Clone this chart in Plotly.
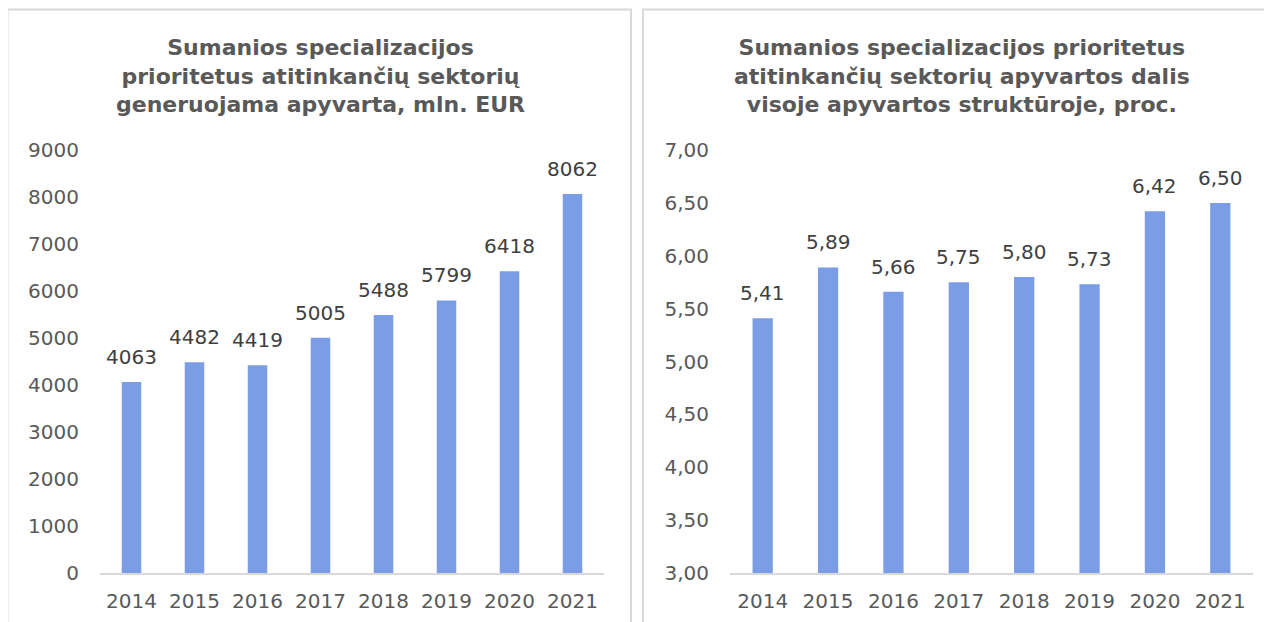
import plotly.graph_objects as go

OFF = 8  # page body margin
W, H = 1272 - OFF, 622 - OFF

years = [2014, 2015, 2016, 2017, 2018, 2019, 2020, 2021]
turnover = [4063, 4482, 4419, 5005, 5488, 5799, 6418, 8062]
share = [5.41, 5.89, 5.66, 5.75, 5.80, 5.73, 6.42, 6.50]
share_labels = ["5,41", "5,89", "5,66", "5,75", "5,80", "5,73", "6,42", "6,50"]

title_left = "Sumanios specializacijos<br>prioritetus atitinkančių sektorių<br>generuojama apyvarta, mln. EUR"
title_right = "Sumanios specializacijos prioritetus<br>atitinkančių sektorių apyvartos dalis<br>visoje apyvartos struktūroje, proc."

BAR = "#7b9de6"
TICK = "#595959"
LABEL = "#404040"
FONT = "DejaVu Sans, Verdana, sans-serif"

def px(x):
    return (x - OFF) / W

def py(y):
    return 1 - (y - OFF) / H

fig = go.Figure()
fig.add_trace(go.Bar(x=years, y=turnover, marker=dict(color=BAR, line=dict(width=0)),
                     width=0.31, xaxis="x", yaxis="y", hoverinfo="x+y"))
fig.add_trace(go.Bar(x=years, y=share, marker=dict(color=BAR, line=dict(width=0)),
                     width=0.31, xaxis="x2", yaxis="y2", hoverinfo="x+y"))

annotations = []
for yr, v in zip(years, turnover):
    annotations.append(dict(x=yr, y=v, xref="x", yref="y", text=str(v), showarrow=False,
                            yanchor="middle", yshift=25, font=dict(size=20, color=LABEL, family=FONT)))
for yr, v, t in zip(years, share, share_labels):
    annotations.append(dict(x=yr, y=v, xref="x2", yref="y2", text=t, showarrow=False,
                            yanchor="middle", yshift=25, font=dict(size=20, color=LABEL, family=FONT)))

annotations.append(dict(x=px(320), y=py(76), xref="paper", yref="paper", text=title_left,
                        showarrow=False, xanchor="center", yanchor="middle",
                        font=dict(size=22, color=TICK, family=FONT, weight="bold")))
annotations.append(dict(x=px(962), y=py(76), xref="paper", yref="paper", text=title_right,
                        showarrow=False, xanchor="center", yanchor="middle",
                        font=dict(size=22, color=TICK, family=FONT, weight="bold")))

shapes = [
    dict(type="rect", xref="paper", yref="paper", x0=px(7.5), x1=px(631), y0=py(640), y1=py(9.5),
         line=dict(color="#d9d9d9", width=2), fillcolor="rgba(0,0,0,0)", layer="below"),
    dict(type="rect", xref="paper", yref="paper", x0=px(643), x1=px(1290), y0=py(640), y1=py(9.5),
         line=dict(color="#d9d9d9", width=2), fillcolor="rgba(0,0,0,0)", layer="below"),
]

ydom = [py(573), py(150)]
axis_common = dict(showgrid=False, zeroline=False, ticks="",
                   tickfont=dict(size=20, color=TICK, family=FONT), fixedrange=True)

xcommon = dict(showline=True, linecolor="#d9d9d9", linewidth=1.5, type="linear",
               range=[years[0] - 0.5, years[-1] + 0.5], tickmode="array", tickvals=years,
               ticktext=[str(y) for y in years], ticklabelstandoff=9, **axis_common)

fig.update_layout(
    width=W, height=H,
    margin=dict(l=0, r=0, t=0, b=0, autoexpand=False),
    paper_bgcolor="white", plot_bgcolor="white",
    showlegend=False,
    separators=", ",
    font=dict(family=FONT, color=TICK),
    xaxis=dict(domain=[px(100), px(604)], anchor="y", **xcommon),
    yaxis=dict(domain=ydom, anchor="x", range=[0, 9000], dtick=1000, tickformat="d",
               showline=False, ticklabelstandoff=20, **axis_common),
    xaxis2=dict(domain=[px(730), px(1253)], anchor="y2", **xcommon),
    yaxis2=dict(domain=ydom, anchor="x2", range=[3, 7], dtick=0.5, tickformat=".2f",
                showline=False, ticklabelstandoff=20, **axis_common),
    annotations=annotations,
    shapes=shapes,
)

fig.write_html("out.html")
